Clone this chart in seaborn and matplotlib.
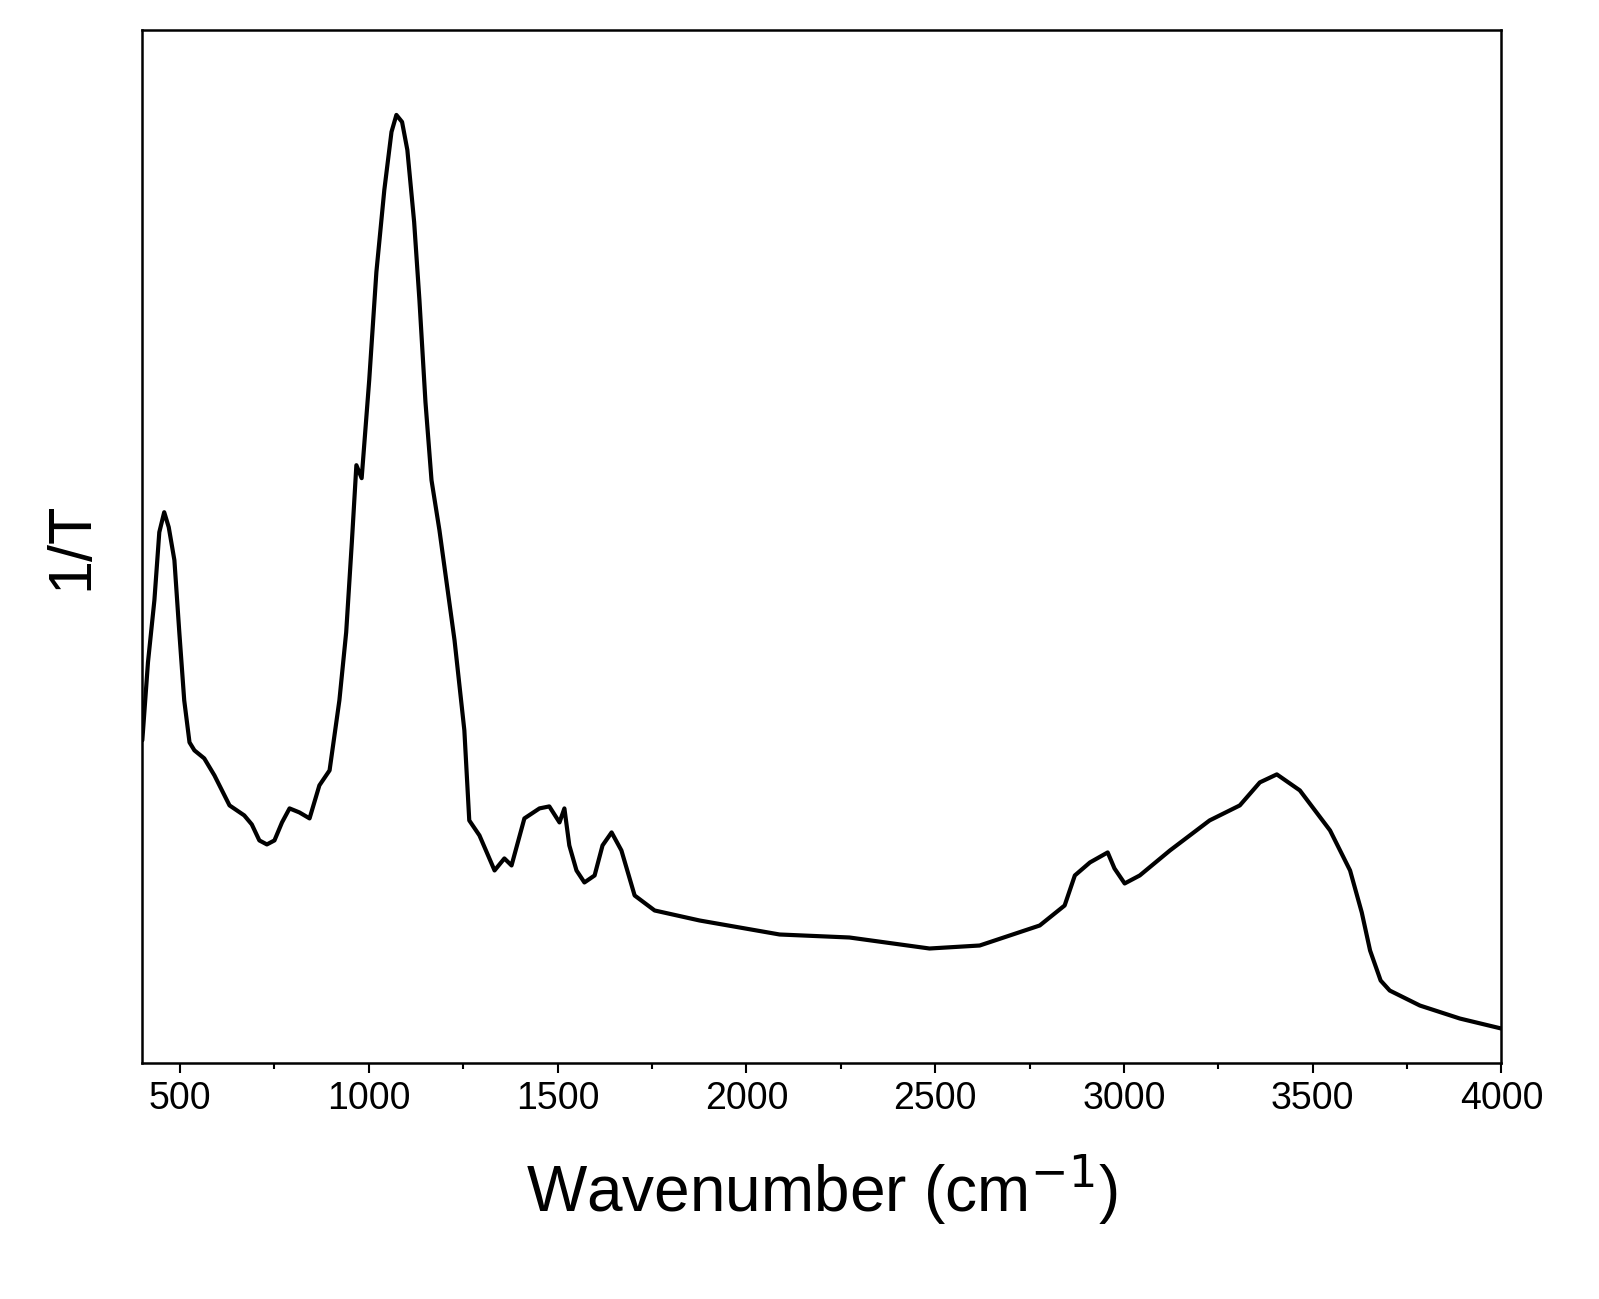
import matplotlib
matplotlib.use("Agg")
import matplotlib.pyplot as plt
import seaborn as sns
import pandas as pd
from matplotlib.ticker import MultipleLocator

# FTIR spectrum (arbitrary 1/T units)
wavenumber = [400, 415, 432, 445, 458, 470, 485, 498, 511, 525, 538, 564, 591, 631, 670,
              690, 710, 730, 750, 770, 790, 816, 843, 869, 896, 922, 940, 955, 967, 981,
              1001, 1020, 1041, 1060, 1073, 1088, 1102, 1120, 1134, 1150, 1166, 1187, 1227,
              1253, 1266, 1293, 1333, 1359, 1378, 1412, 1452, 1478, 1505, 1518, 1531, 1550,
              1571, 1598, 1619, 1643, 1669, 1704, 1757, 1876, 2088, 2273, 2485, 2618, 2777,
              2843, 2870, 2910, 2957, 2975, 3002, 3042, 3122, 3227, 3307, 3360, 3405, 3466,
              3546, 3599, 3630, 3652, 3680, 3704, 3784, 3890, 4000]
inv_t = [322, 400, 462, 530, 550, 535, 502, 430, 362, 320, 312, 304, 287, 257, 247,
         238, 222, 218, 222, 240, 254, 250, 244, 277, 292, 362, 430, 520, 597, 584,
         682, 790, 872, 930, 947, 940, 912, 840, 762, 660, 582, 532, 422,
         332, 242, 227, 192, 204, 197, 244, 254, 256, 240, 254, 217, 192,
         180, 187, 217, 230, 212, 167, 152, 142, 128, 125, 114, 117, 137,
         157, 187, 200, 210, 194, 179, 187, 212, 242, 257, 280, 288, 272,
         232, 192, 150, 112, 82, 72, 57, 44, 34]

df = pd.DataFrame({"wavenumber": wavenumber, "inv_t": inv_t})

sns.set_style("ticks")
plt.rcParams["font.family"] = ["Liberation Sans", "DejaVu Sans"]
plt.rcParams["text.color"] = "black"
plt.rcParams["axes.labelcolor"] = "black"

fig, ax = plt.subplots(figsize=(15.99, 12.99), dpi=100)
sns.lineplot(data=df, x="wavenumber", y="inv_t", color="black", linewidth=3, ax=ax)

ax.set_xlim(400, 4000)
ax.set_ylim(0, 1032)
ax.xaxis.set_major_locator(MultipleLocator(500))
ax.xaxis.set_minor_locator(MultipleLocator(250))
ax.set_yticks([])
ax.tick_params(axis="x", which="major", labelsize=27, length=7, width=1.5,
               colors="black", pad=6)
ax.tick_params(axis="x", which="minor", length=4, width=1.5, colors="black")
for s in ax.spines.values():
    s.set_linewidth(1.8)
    s.set_color("black")

ax.set_xlabel("Wavenumber (cm$^{-1}$)", fontsize=46, labelpad=26)
ax.set_ylabel("1/T", fontsize=44, labelpad=30)

fig.subplots_adjust(left=0.089, right=0.939, top=0.977, bottom=0.182)
fig.savefig("out.png", dpi=100)
